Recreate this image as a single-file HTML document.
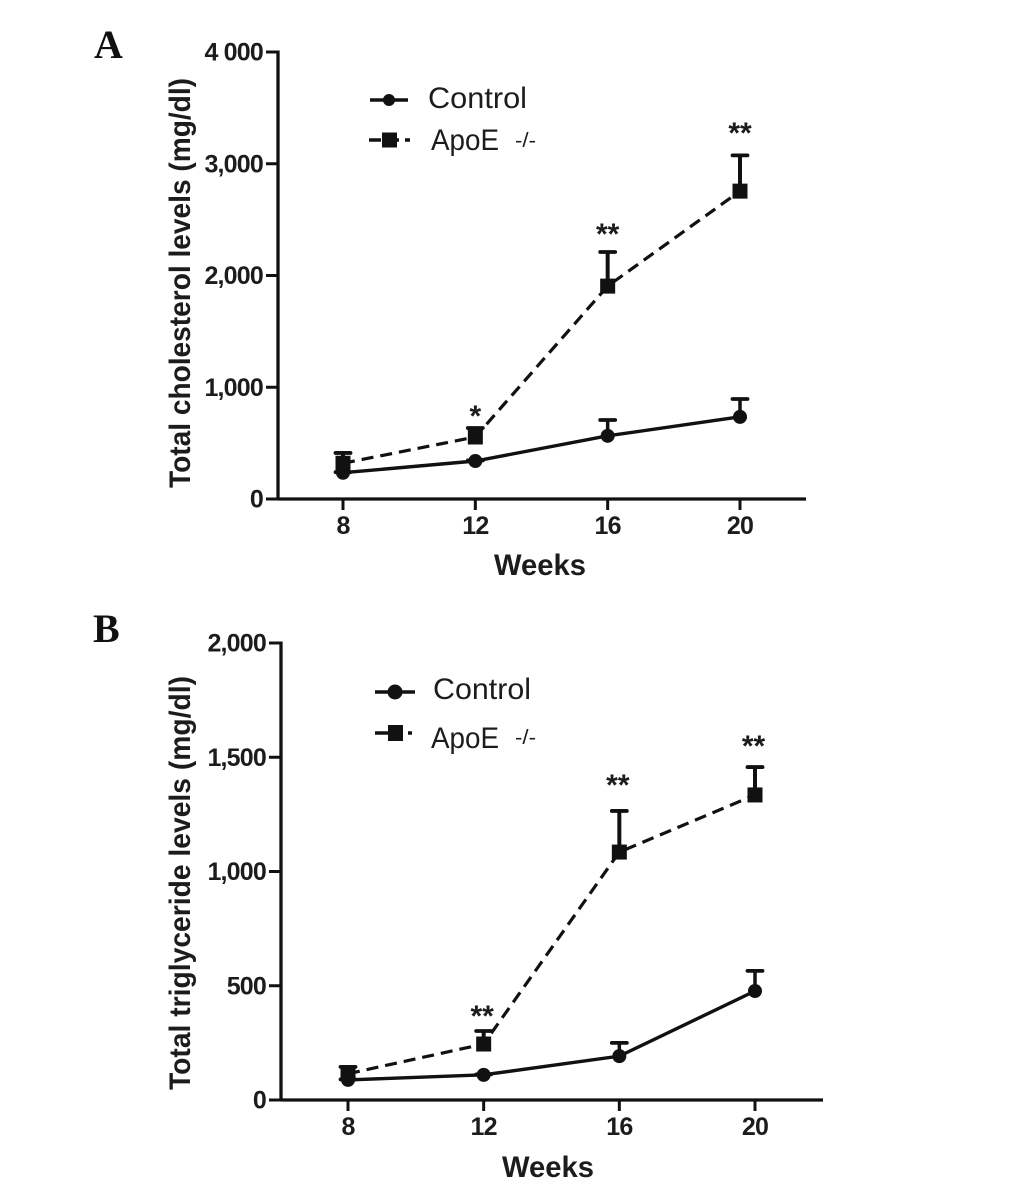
<!DOCTYPE html>
<html lang="en">
<head>
<meta charset="utf-8">
<title>Total cholesterol and triglyceride levels</title>
<style>
html,body{margin:0;padding:0;background:#fff;}
svg{display:block;}
text{font-family:"Liberation Sans",sans-serif;fill:#1c1c1c;}
.tick{font-weight:bold;font-size:25px;letter-spacing:-0.8px;}
.title{font-weight:bold;font-size:30px;}
.panel{font-family:"Liberation Serif",serif;font-weight:bold;font-size:40px;fill:#111;}
.leg{font-size:30px;}
.sup{font-size:20px;}
.star{font-weight:bold;font-size:30px;}
</style>
</head>
<body>
<svg id="chart" width="1033" height="1194" viewBox="0 0 1033 1194" xmlns="http://www.w3.org/2000/svg">
  <rect x="0" y="0" width="1033" height="1194" fill="#fff"/>
  <text class="panel" x="94" y="58">A</text>
  <text class="panel" x="93" y="642">B</text>

  <g>
    <line x1="370" y1="100" x2="408" y2="100" stroke="#111" stroke-width="3.5"/>
    <circle cx="389" cy="100" r="6" fill="#111"/>
    <text class="leg" x="428" y="108" textLength="99" lengthAdjust="spacingAndGlyphs">Control</text>
    <line x1="369" y1="140" x2="410" y2="140" stroke="#111" stroke-width="3.5" stroke-dasharray="12 6"/>
    <rect x="382" y="132.5" width="15" height="15" fill="#111"/>
    <text class="leg" x="431" y="150" textLength="68" lengthAdjust="spacingAndGlyphs">ApoE</text>
    <text class="sup" x="515" y="147" textLength="21" lengthAdjust="spacingAndGlyphs">-/-</text>
  </g>
  <g>
    <line x1="375" y1="692" x2="415" y2="692" stroke="#111" stroke-width="3.5"/>
    <circle cx="395" cy="692" r="7.5" fill="#111"/>
    <text class="leg" x="433" y="699" textLength="98" lengthAdjust="spacingAndGlyphs">Control</text>
    <line x1="375" y1="733" x2="415" y2="733" stroke="#111" stroke-width="3.5" stroke-dasharray="13 20 4 3"/>
    <rect x="388" y="725" width="15" height="16" fill="#111"/>
    <text class="leg" x="431" y="748" textLength="68" lengthAdjust="spacingAndGlyphs">ApoE</text>
    <text class="sup" x="515" y="744" textLength="21" lengthAdjust="spacingAndGlyphs">-/-</text>
  </g>
</svg>
<script>
// Shared categories
const weeks = [8, 12, 16, 20];

// Panel A: total cholesterol
const aYTicks = [0, 1000, 2000, 3000, 4000];
const aYLabels = ["0", "1,000", "2,000", "3,000", "4 000"];
const aControl = [235, 340, 565, 735];
const aControlUpper = [240, 345, 707, 895];
const aApoE = [320, 555, 1905, 2755];
const aApoEUpper = [412, 635, 2210, 3075];
const aStars = ["", "*", "**", "**"];
const aStarLevels = [0, 770, 2398, 3302];

// Panel B: total triglyceride
const bYTicks = [0, 500, 1000, 1500, 2000];
const bYLabels = ["0", "500", "1,000", "1,500", "2,000"];
const bControl = [88, 110, 192, 477];
const bControlUpper = [90, 112, 250, 565];
const bApoE = [115, 245, 1085, 1335];
const bApoEUpper = [145, 302, 1265, 1457];
const bStars = ["", "**", "**", "**"];
const bStarLevels = [0, 381, 1392, 1562];

const NS = "http://www.w3.org/2000/svg";
const chart = document.getElementById("chart");

function make(parent, tag, props, text) {
  const el = document.createElementNS(NS, tag);
  for (const k in props) el.setAttribute(k, props[k]);
  if (text !== undefined) el.textContent = text;
  parent.appendChild(el);
  return el;
}

function drawPanel(cfg) {
  const xScale = v => cfg.x8 + (v - 8) * (cfg.x20 - cfg.x8) / 12;
  const yScale = v => cfg.y0 - v * (cfg.y0 - cfg.yTop) / cfg.yMax;

  const g = make(chart, "g", {});
  
  

  const yAxis = make(g, "line", {x1: cfg.axisX, y1: cfg.yTop - 1.5, x2: cfg.axisX, y2: cfg.y0 + 1.5, stroke: "#111", "stroke-width": 3.3});
  
  

  const xAxis = make(g, "line", {x1: cfg.axisX, y1: cfg.y0, x2: cfg.axisEnd, y2: cfg.y0, stroke: "#111", "stroke-width": 3.3});
  
  

  cfg.yTicks.forEach((v, i) => {
    const y = yScale(v);
    const t = make(g, "line", {x1: cfg.axisX - 12, y1: y, x2: cfg.axisX, y2: y, stroke: "#111", "stroke-width": 3});
    
    
    const l = make(g, "text", {class: "tick", x: cfg.axisX - 15, y: y + 8.5, "text-anchor": "end"}, cfg.yLabels[i]);
    
    
  });

  weeks.forEach(w => {
    const x = xScale(w);
    const t = make(g, "line", {x1: x, y1: cfg.y0, x2: x, y2: cfg.y0 + 11, stroke: "#111", "stroke-width": 3});
    
    
    const l = make(g, "text", {class: "tick", x: x, y: cfg.y0 + 35, "text-anchor": "middle"}, String(w));
    
    
  });

  const xt = make(g, "text", {class: "title", x: cfg.xTitleX, y: cfg.xTitleY, "text-anchor": "middle", textLength: 92, lengthAdjust: "spacingAndGlyphs"}, "Weeks");
  
  

  const yt = make(g, "text", {class: "title", x: 0, y: 0, "text-anchor": "middle", textLength: cfg.yTitleLen, lengthAdjust: "spacingAndGlyphs", transform: "translate(" + cfg.yTitleX + " " + cfg.yTitleY + ") rotate(-90)"}, cfg.yTitle);
  
  

  // Control series
  cfg.control.forEach((v, i) => {
    const x = xScale(weeks[i]);
    const s = make(g, "line", {x1: x, y1: yScale(v), x2: x, y2: yScale(cfg.controlUpper[i]), stroke: "#111", "stroke-width": 3.5});
    
    
    const c = make(g, "line", {x1: x - 7.5, y1: yScale(cfg.controlUpper[i]), x2: x + 7.5, y2: yScale(cfg.controlUpper[i]), stroke: "#111", "stroke-width": 3.8, "stroke-linecap": "round"});
    
    
  });
  const cPts = cfg.control.map((v, i) => xScale(weeks[i]) + "," + yScale(v)).join(" ");
  const cLine = make(g, "polyline", {points: cPts, fill: "none", stroke: "#111", "stroke-width": 3.4});
  
  
  cfg.control.forEach((v, i) => {
    const m = make(g, "circle", {cx: xScale(weeks[i]), cy: yScale(v), r: 7, fill: "#111"});
    
    
  });

  // ApoE series
  const aPts = cfg.apoe.map((v, i) => xScale(weeks[i]) + "," + yScale(v)).join(" ");
  const aLine = make(g, "polyline", {points: aPts, fill: "none", stroke: "#111", "stroke-width": 3.2, "stroke-dasharray": "12 7"});
  
  
  cfg.apoe.forEach((v, i) => {
    const x = xScale(weeks[i]);
    const s = make(g, "line", {x1: x, y1: yScale(v), x2: x, y2: yScale(cfg.apoeUpper[i]), stroke: "#111", "stroke-width": 4});
    
    
    const c = make(g, "line", {x1: x - 7.5, y1: yScale(cfg.apoeUpper[i]), x2: x + 7.5, y2: yScale(cfg.apoeUpper[i]), stroke: "#111", "stroke-width": 3.8, "stroke-linecap": "round"});
    
    
    const m = make(g, "rect", {x: x - 7.5, y: yScale(v) - 7.5, width: 15, height: 15, fill: "#111"});
    
    
    if (cfg.stars[i]) {
      const st = make(g, "text", {class: "star", x: x + cfg.starDx, y: yScale(cfg.starLevels[i]) + 13, "text-anchor": "middle"}, cfg.stars[i]);
      
      
    }
  });
}

drawPanel({
  id: "panel-a", axisX: 278, axisEnd: 806, x8: 343, x20: 740, y0: 499, yTop: 52, yMax: 4000,
  yTicks: aYTicks, yLabels: aYLabels, control: aControl, controlUpper: aControlUpper,
  apoe: aApoE, apoeUpper: aApoEUpper, stars: aStars, starLevels: aStarLevels, starDx: 0,
  xTitleX: 540, xTitleY: 575, yTitle: "Total cholesterol levels (mg/dl)", yTitleX: 190, yTitleY: 283, yTitleLen: 410
});
drawPanel({
  id: "panel-b", axisX: 281, axisEnd: 823, x8: 348, x20: 755, y0: 1100, yTop: 643, yMax: 2000,
  yTicks: bYTicks, yLabels: bYLabels, control: bControl, controlUpper: bControlUpper,
  apoe: bApoE, apoeUpper: bApoEUpper, stars: bStars, starLevels: bStarLevels, starDx: -1.5,
  xTitleX: 548, xTitleY: 1177, yTitle: "Total triglyceride levels (mg/dl)", yTitleX: 190, yTitleY: 883, yTitleLen: 414
});
</script>
</body>
</html>
